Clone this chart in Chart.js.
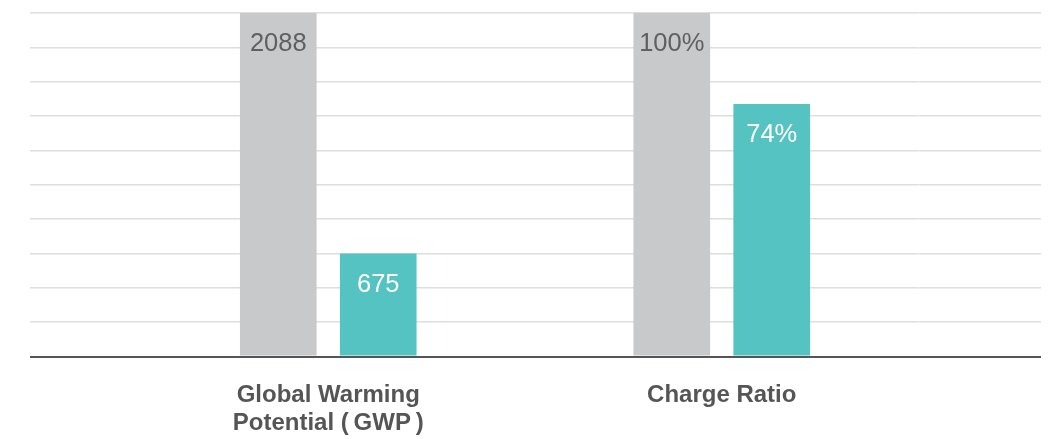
<!DOCTYPE html>
<html>
<head>
<meta charset="utf-8">
<script src="https://cdn.jsdelivr.net/npm/chart.js@4"></script>
<style>
html,body{margin:0;padding:0;background:#fff;}
#c{display:block;}
</style>
</head>
<body>
<canvas id="c" width="1052" height="439"></canvas>
<script>
// ---- data ----
const categories = [['Global Warming', 'Potential (\u2009GWP\u2009)'], 'Charge Ratio'];
const baselineValues = [100, 100];     // grey bars (relative height, %)
const improvedValues = [30, 73.5];     // teal bars (relative height, %)
const baselineLabels = ['2088', '100%'];
const improvedLabels = ['675', '74%'];
const yMin = 0, yMax = 100, yStep = 10;

const valueLabels = [baselineLabels, improvedLabels];
const labelColors = ['#5f6061', '#ffffff'];

const barLabelPlugin = {
  id: 'barLabels',
  afterDatasetsDraw(chart) {
    const ctx = chart.ctx;
    ctx.save();
    ctx.font = '25.5px "Liberation Sans", Arial, sans-serif';
    ctx.textAlign = 'center';
    ctx.textBaseline = 'middle';
    chart.data.datasets.forEach((ds, di) => {
      const meta = chart.getDatasetMeta(di);
      meta.data.forEach((bar, i) => {
        ctx.fillStyle = labelColors[di];
        ctx.fillText(valueLabels[di][i], bar.x, bar.y + 31);
      });
    });
    ctx.restore();
  }
};

const gridColor = c => (c.tick && c.tick.value === 0) ? '#555555' : '#dedede';
const gridWidth = c => (c.tick && c.tick.value === 0) ? 2 : 1.5;

new Chart(document.getElementById('c'), {
  type: 'bar',
  data: {
    labels: categories,
    datasets: [
      { data: baselineValues, backgroundColor: '#c8c9cb', borderWidth: 0,
        barPercentage: 0.767, categoryPercentage: 0.508 },
      { data: improvedValues, backgroundColor: '#55c3c1', borderWidth: 0,
        barPercentage: 0.767, categoryPercentage: 0.508 }
    ]
  },
  options: {
    responsive: false,
    animation: false,
    devicePixelRatio: 1,
    layout: { padding: { left: 30, right: 11, top: 13, bottom: -22.7 } },
    plugins: { legend: { display: false }, tooltip: { enabled: false } },
    scales: {
      x: {
        grid: { display: false, drawTicks: false },
        border: { display: true, color: '#555555', width: 2 },
        ticks: {
          color: '#555555',
          font: { family: '"Liberation Sans", Arial, sans-serif', size: 24, weight: 'bold', lineHeight: 1.17 },
          padding: 24.5,
          maxRotation: 0,
          autoSkip: false
        }
      },
      y: {
        position: 'left',
        min: yMin, max: yMax,
        ticks: { display: false, stepSize: yStep },
        border: { display: false },
        grid: { color: gridColor, lineWidth: gridWidth, drawTicks: true, tickLength: 101.5 }
      },
      y2: {
        position: 'right',
        min: yMin, max: yMax,
        ticks: { display: false, stepSize: yStep },
        border: { display: false },
        grid: { color: gridColor, lineWidth: gridWidth, drawOnChartArea: false, drawTicks: true, tickLength: 122.5 }
      }
    }
  },
  plugins: [barLabelPlugin]
});
</script>
</body>
</html>
